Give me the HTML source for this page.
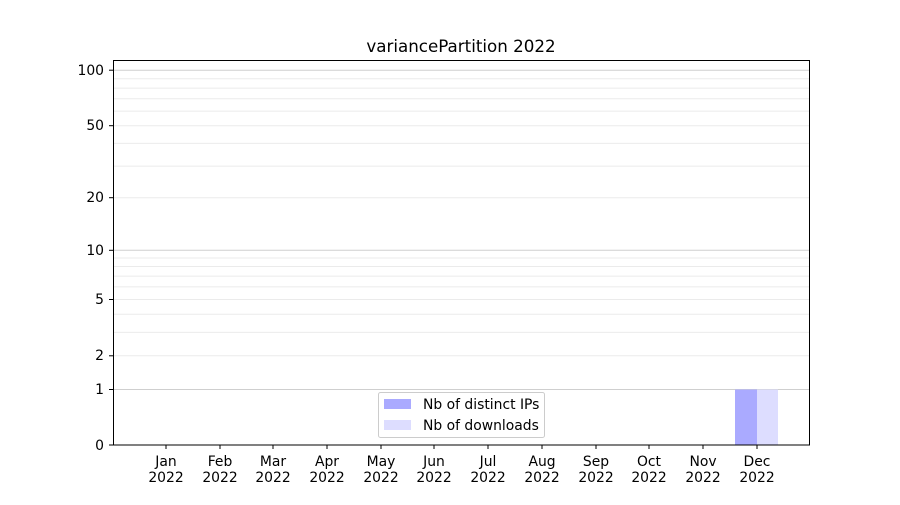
<!DOCTYPE html><html><head><style>body{margin:0;background:#fff}svg text{font-family:"DejaVu Sans","Liberation Sans",sans-serif;font-size:13.9px;fill:#000}</style></head><body>
<svg width="900" height="500" xmlns="http://www.w3.org/2000/svg">
<rect width="900" height="500" fill="#fff"/>
<text x="461" y="52" text-anchor="middle" style="font-size:16.7px">variancePartition 2022</text>
<g stroke="#ebebeb" stroke-width="1">
<line x1="113" x2="810" y1="355.8" y2="355.8"/><line x1="113" x2="810" y1="332.4" y2="332.4"/><line x1="113" x2="810" y1="314.3" y2="314.3"/><line x1="113" x2="810" y1="299.5" y2="299.5"/><line x1="113" x2="810" y1="286.9" y2="286.9"/><line x1="113" x2="810" y1="276.1" y2="276.1"/><line x1="113" x2="810" y1="266.5" y2="266.5"/><line x1="113" x2="810" y1="258" y2="258"/>
<line x1="113" x2="810" y1="197.7" y2="197.7"/><line x1="113" x2="810" y1="166.1" y2="166.1"/><line x1="113" x2="810" y1="143.4" y2="143.4"/><line x1="113" x2="810" y1="125.7" y2="125.7"/><line x1="113" x2="810" y1="111.1" y2="111.1"/><line x1="113" x2="810" y1="98.8" y2="98.8"/><line x1="113" x2="810" y1="88.1" y2="88.1"/><line x1="113" x2="810" y1="78.7" y2="78.7"/>
</g>
<g stroke="#cfcfcf"><line x1="113" x2="810" y1="389.5" y2="389.5"/><line x1="113" x2="810" y1="250.3" y2="250.3"/><line x1="113" x2="810" y1="70.2" y2="70.2"/></g>
<rect x="735" y="389.5" width="22" height="55.5" fill="#aaaaff"/>
<rect x="757" y="389.5" width="21" height="55.5" fill="#ddddff"/>
<rect x="113.5" y="60.5" width="696" height="384.5" fill="none" stroke="#000" stroke-width="1"/>
<g stroke="#000"><line x1="109" x2="113" y1="445" y2="445"/><line x1="109" x2="113" y1="389.5" y2="389.5"/><line x1="109" x2="113" y1="355.8" y2="355.8"/><line x1="109" x2="113" y1="299.5" y2="299.5"/><line x1="109" x2="113" y1="250.3" y2="250.3"/><line x1="109" x2="113" y1="197.7" y2="197.7"/><line x1="109" x2="113" y1="125.7" y2="125.7"/><line x1="109" x2="113" y1="70.2" y2="70.2"/></g>
<g text-anchor="end"><text x="104" y="450">0</text><text x="104" y="394">1</text><text x="104" y="360">2</text><text x="104" y="304">5</text><text x="104" y="255">10</text><text x="104" y="202">20</text><text x="104" y="130">50</text><text x="104" y="75">100</text></g>
<g stroke="#000">
<line x1="166" x2="166" y1="445" y2="449"/><line x1="220" x2="220" y1="445" y2="449"/><line x1="273" x2="273" y1="445" y2="449"/><line x1="327" x2="327" y1="445" y2="449"/><line x1="381" x2="381" y1="445" y2="449"/><line x1="434" x2="434" y1="445" y2="449"/><line x1="488" x2="488" y1="445" y2="449"/><line x1="542" x2="542" y1="445" y2="449"/><line x1="596" x2="596" y1="445" y2="449"/><line x1="649" x2="649" y1="445" y2="449"/><line x1="703" x2="703" y1="445" y2="449"/><line x1="757" x2="757" y1="445" y2="449"/>
</g>
<g text-anchor="middle">
<text x="166" y="466">Jan</text><text x="166" y="482">2022</text>
<text x="220" y="466">Feb</text><text x="220" y="482">2022</text>
<text x="273" y="466">Mar</text><text x="273" y="482">2022</text>
<text x="327" y="466">Apr</text><text x="327" y="482">2022</text>
<text x="381" y="466">May</text><text x="381" y="482">2022</text>
<text x="434" y="466">Jun</text><text x="434" y="482">2022</text>
<text x="488" y="466">Jul</text><text x="488" y="482">2022</text>
<text x="542" y="466">Aug</text><text x="542" y="482">2022</text>
<text x="596" y="466">Sep</text><text x="596" y="482">2022</text>
<text x="649" y="466">Oct</text><text x="649" y="482">2022</text>
<text x="703" y="466">Nov</text><text x="703" y="482">2022</text>
<text x="757" y="466">Dec</text><text x="757" y="482">2022</text>
</g>
<rect x="378.5" y="392.5" width="166" height="45" rx="2" fill="#fff" fill-opacity="0.8" stroke="#ccc"/>
<rect x="384" y="399" width="27" height="10" fill="#aaaaff"/>
<rect x="384" y="420" width="27" height="10" fill="#ddddff"/>
<text x="423" y="409">Nb of distinct IPs</text>
<text x="423" y="430">Nb of downloads</text>
</svg></body></html>
